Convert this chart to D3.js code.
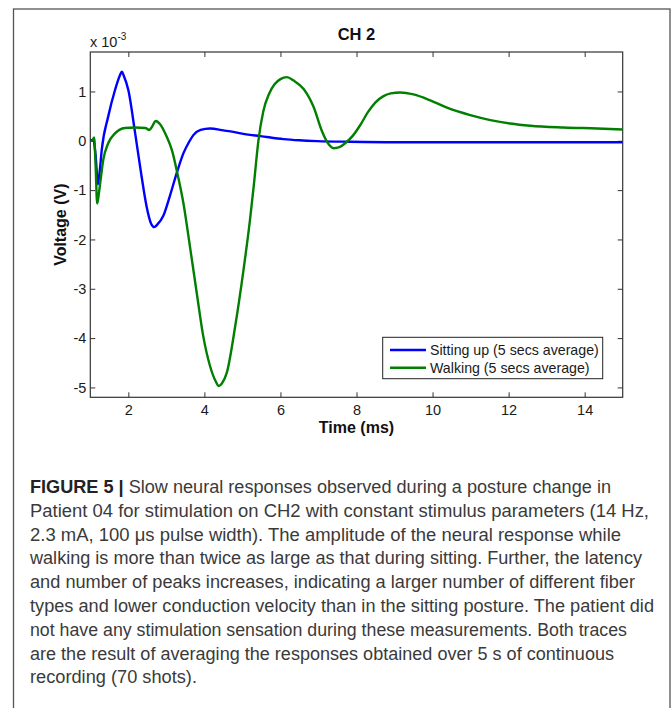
<!DOCTYPE html>
<html>
<head>
<meta charset="utf-8">
<script src="https://cdn.jsdelivr.net/npm/d3@7"></script>
<style>
  html, body { margin: 0; padding: 0; background: #fff; }
  svg { display: block; }
</style>
</head>
<body>
<svg id="chart" width="672" height="708"></svg>
<script>
// ---- data (voltage in units of 1e-3 V, time in ms) ----
const timeSitting = [1.0, 1.08, 1.14, 1.2, 1.25, 1.3, 1.47, 1.65, 1.78, 1.83, 1.88, 2.0, 2.18, 2.35, 2.48, 2.6, 2.68, 2.76, 2.92, 3.1, 3.27, 3.45, 3.6, 3.71, 3.9, 4.15, 4.5, 4.76, 5.1, 5.47, 6.08, 6.5, 6.96, 7.83, 9, 10, 11, 12, 13, 14, 15];
const voltSitting = [0.0, 0.02, -0.3, -0.88, -0.6, -0.19, 0.49, 1.03, 1.33, 1.40, 1.32, 1.03, 0.15, -0.73, -1.33, -1.68, -1.75, -1.7, -1.52, -1.1, -0.66, -0.25, -0.02, 0.115, 0.22, 0.25, 0.21, 0.18, 0.13, 0.095, 0.034, 0.01, -0.006, -0.02, -0.03, -0.03, -0.03, -0.03, -0.03, -0.03, -0.03];

const timeWalking = [1.0, 1.05, 1.1, 1.14, 1.18, 1.22, 1.26, 1.34, 1.47, 1.65, 1.91, 2.18, 2.45, 2.55, 2.62, 2.72, 2.83, 3.01, 3.15, 3.27, 3.45, 3.62, 3.8, 3.97, 4.15, 4.3, 4.38, 4.46, 4.59, 4.81, 5.03, 5.2, 5.3, 5.42, 5.55, 5.7, 5.85, 6.0, 6.17, 6.35, 6.61, 6.87, 7.09, 7.25, 7.4, 7.55, 7.7, 7.9, 8.1, 8.3, 8.5, 8.7, 8.9, 9.15, 9.5, 9.94, 10.38, 10.99, 11.52, 12.04, 12.57, 13.45, 14.33, 15];
const voltWalking = [0.0, 0.0, 0.07, -0.5, -1.27, -1.1, -0.86, -0.39, -0.05, 0.15, 0.26, 0.27, 0.26, 0.22, 0.28, 0.40, 0.34, 0.08, -0.2, -0.59, -1.27, -2.14, -3.09, -3.96, -4.57, -4.88, -4.97, -4.92, -4.70, -3.76, -2.61, -1.6, -0.9, 0.0, 0.6, 0.95, 1.15, 1.25, 1.29, 1.22, 1.05, 0.69, 0.2, -0.05, -0.15, -0.13, -0.05, 0.1, 0.32, 0.58, 0.78, 0.9, 0.96, 0.98, 0.94, 0.82, 0.67, 0.52, 0.42, 0.35, 0.305, 0.27, 0.25, 0.23];

const xTicks = [2, 4, 6, 8, 10, 12, 14];
const yTicks = [1, 0, -1, -2, -3, -4, -5];
const seriesNames = ["Sitting up (5 secs average)", "Walking (5 secs average)"];
const seriesColors = ["#0000ff", "#007f00"];

const captionLines = [
  "Slow neural responses observed during a posture change in",
  "Patient 04 for stimulation on CH2 with constant stimulus parameters (14 Hz,",
  "2.3 mA, 100 \u03bcs pulse width). The amplitude of the neural response while",
  "walking is more than twice as large as that during sitting. Further, the latency",
  "and number of peaks increases, indicating a larger number of different fiber",
  "types and lower conduction velocity than in the sitting posture. The patient did",
  "not have any stimulation sensation during these measurements. Both traces",
  "are the result of averaging the responses obtained over 5 s of continuous",
  "recording (70 shots)."
];
const captionEnds = [611, 649, 621, 642, 635, 654, 627, 614, 197];

// ---- layout ----
const svg = d3.select("#chart");
const plot = { left: 90.3, right: 622.7, top: 52, bottom: 397.3 };

const x = d3.scaleLinear().domain([1, 15]).range([plot.left, plot.right]);
const y = d3.scaleLinear().domain([-5.2, 1.8]).range([plot.bottom, plot.top]);

// outer frame
svg.append("rect")
  .attr("x", 13.5).attr("y", 9)
  .attr("width", 656.5).attr("height", 720)
  .attr("fill", "none").attr("stroke", "#555").attr("stroke-width", 1.3);

const axisColor = "#333";
const tickFont = "'Liberation Sans', Arial, sans-serif";

function styleAxis(g, showLabels) {
  g.attr("font-size", null).attr("font-family", null);
  g.select(".domain").remove();
  g.selectAll(".tick line").attr("stroke", axisColor).attr("stroke-width", 1);
  g.selectAll(".tick text")
    .attr("fill", "#1a1a1a")
    .style("font-family", tickFont)
    .style("font-size", "14.5px");
  if (!showLabels) g.selectAll(".tick text").remove();
}

const fmt = d => d3.format("d")(d).replace("\u2212", "-");

svg.append("g")
  .attr("transform", `translate(0,${plot.bottom})`)
  .call(d3.axisBottom(x).tickValues(xTicks).tickSize(-5).tickPadding(7).tickFormat(fmt))
  .call(g => styleAxis(g, true));

svg.append("g")
  .attr("transform", `translate(0,${plot.top})`)
  .call(d3.axisTop(x).tickValues(xTicks).tickSize(-5))
  .call(g => styleAxis(g, false));

svg.append("g")
  .attr("transform", `translate(${plot.left},0)`)
  .call(d3.axisLeft(y).tickValues(yTicks).tickSize(-5).tickPadding(4).tickFormat(fmt))
  .call(g => styleAxis(g, true));

svg.append("g")
  .attr("transform", `translate(${plot.right},0)`)
  .call(d3.axisRight(y).tickValues(yTicks).tickSize(-5))
  .call(g => styleAxis(g, false));

// box
svg.append("rect")
  .attr("x", plot.left).attr("y", plot.top)
  .attr("width", plot.right - plot.left).attr("height", plot.bottom - plot.top)
  .attr("fill", "none").attr("stroke", axisColor).attr("stroke-width", 1.2);

// clip
svg.append("clipPath").attr("id", "clip")
  .append("rect")
  .attr("x", plot.left).attr("y", plot.top)
  .attr("width", plot.right - plot.left).attr("height", plot.bottom - plot.top);

const line = d3.line()
  .x(d => x(d[0])).y(d => y(d[1]))
  .curve(d3.curveMonotoneX);

const sitting = timeSitting.map((t, i) => [t, voltSitting[i]]);
const walking = timeWalking.map((t, i) => [t, voltWalking[i]]);

const lines = svg.append("g").attr("clip-path", "url(#clip)");
lines.append("path").datum(sitting)
  .attr("d", line).attr("fill", "none")
  .attr("stroke", seriesColors[0]).attr("stroke-width", 2.4)
  .attr("stroke-linejoin", "round");
lines.append("path").datum(walking)
  .attr("d", line).attr("fill", "none")
  .attr("stroke", seriesColors[1]).attr("stroke-width", 2.4)
  .attr("stroke-linejoin", "round");

// title
svg.append("text")
  .attr("x", (plot.left + plot.right) / 2).attr("y", 40)
  .attr("text-anchor", "middle")
  .style("font-family", tickFont).style("font-weight", "bold").style("font-size", "16.5px")
  .attr("fill", "#111")
  .text("CH 2");

// exponent label
const expo = svg.append("text")
  .attr("x", 90).attr("y", 47)
  .style("font-family", tickFont).style("font-size", "14.5px")
  .attr("fill", "#1a1a1a");
expo.append("tspan").text("x 10");
expo.append("tspan").attr("dy", -7.5).style("font-size", "10px").text("-3");

// axis labels
svg.append("text")
  .attr("x", (plot.left + plot.right) / 2).attr("y", 433)
  .attr("text-anchor", "middle")
  .style("font-family", tickFont).style("font-weight", "bold").style("font-size", "16px")
  .attr("fill", "#111")
  .text("Time (ms)");

svg.append("text")
  .attr("transform", `translate(66,${(plot.top + plot.bottom) / 2}) rotate(-90)`)
  .attr("text-anchor", "middle")
  .style("font-family", tickFont).style("font-weight", "bold").style("font-size", "16px")
  .attr("fill", "#111")
  .text("Voltage (V)");

// legend
const lg = svg.append("g");
lg.append("rect")
  .attr("x", 382.7).attr("y", 337.3).attr("width", 220).attr("height", 41.4)
  .attr("fill", "#fff").attr("stroke", "#222").attr("stroke-width", 1);
seriesNames.forEach((name, i) => {
  const yy = 350 + i * 17.7;
  lg.append("line")
    .attr("x1", 390).attr("x2", 426).attr("y1", yy).attr("y2", yy)
    .attr("stroke", seriesColors[i]).attr("stroke-width", 2.4);
  lg.append("text")
    .attr("x", 430).attr("y", yy + 5)
    .style("font-family", tickFont).style("font-size", "14.2px")
    .attr("fill", "#1a1a1a")
    .text(name);
});

// caption
const capFont = "'Liberation Sans', Arial, sans-serif";
captionLines.forEach((txt, i) => {
  const yy = 493 + i * 23.8;
  const t = svg.append("text")
    .attr("x", 30).attr("y", yy)
    .style("font-family", capFont).style("font-size", "17.5px")
    .attr("fill", "#3a3a3a")
    .attr("textLength", captionEnds[i] - 30)
    .attr("lengthAdjust", "spacingAndGlyphs");
  if (i === 0) {
    t.append("tspan").style("font-weight", "bold").attr("fill", "#222").text("FIGURE 5 | ");
  }
  t.append("tspan").text(txt);
});
</script>
</body>
</html>
